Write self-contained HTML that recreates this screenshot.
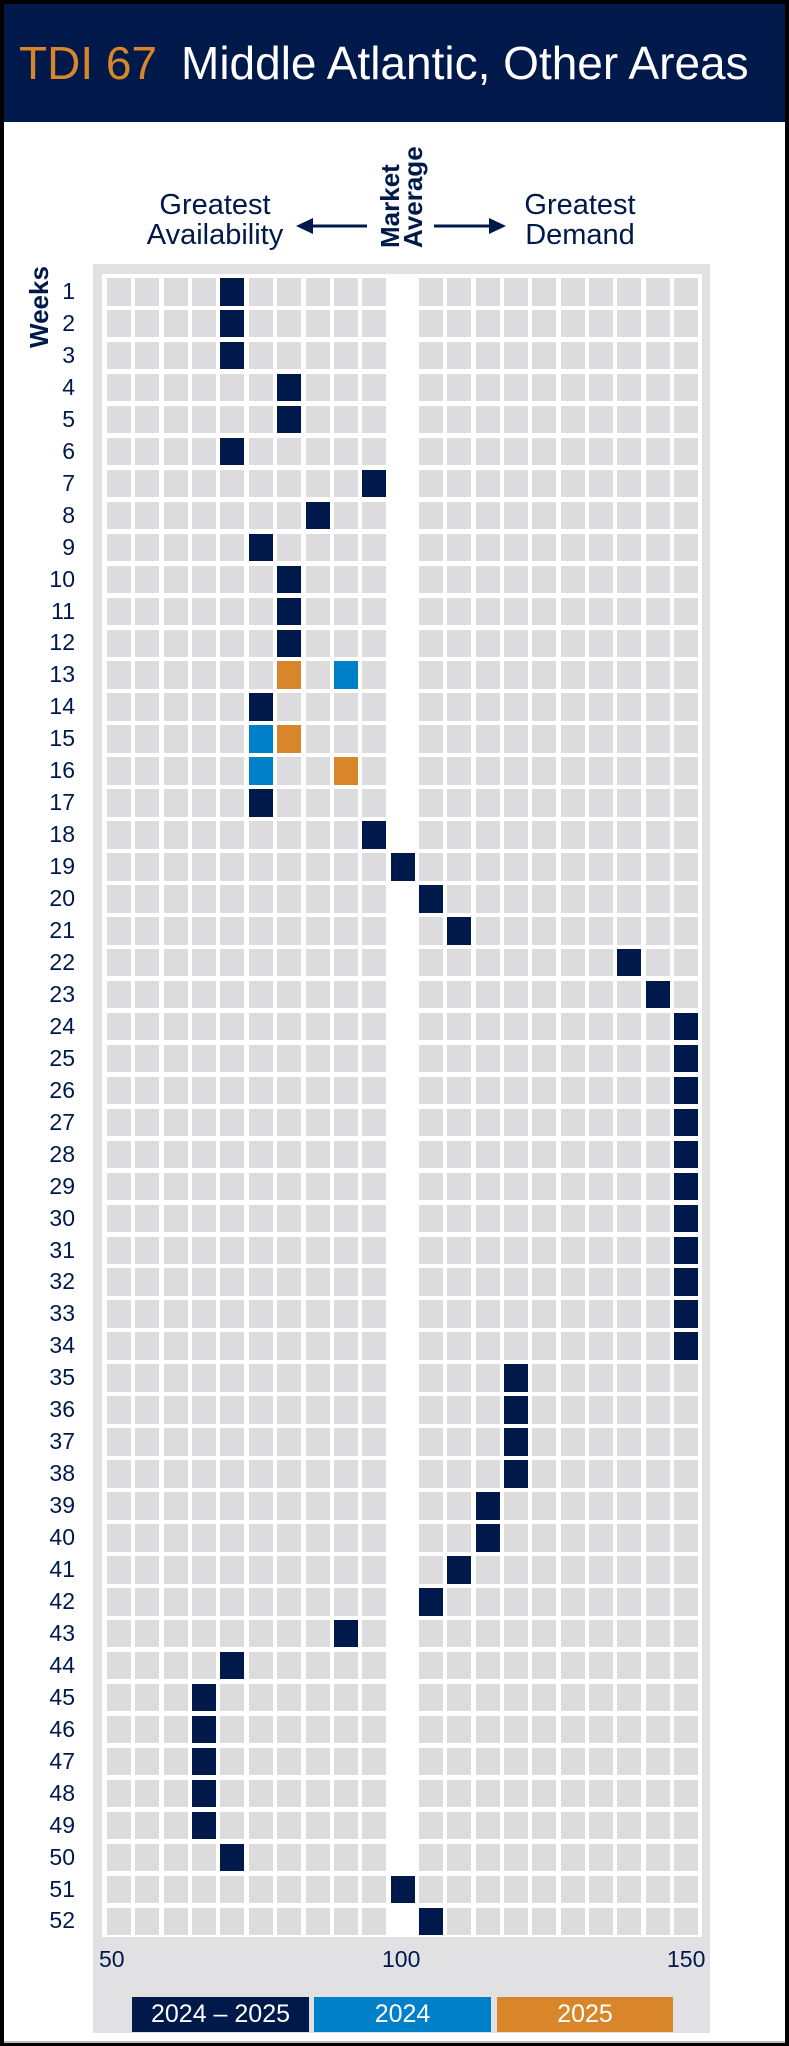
<!DOCTYPE html>
<html><head><meta charset="utf-8"><style>
html,body{margin:0;padding:0}
body{width:789px;height:2046px;background:#000;position:relative;overflow:hidden;font-family:"Liberation Sans",sans-serif}
#page{position:absolute;left:4px;top:4px;width:781px;height:2037px;background:#fff}
#hdr{position:absolute;left:4px;top:4px;width:781px;height:118px;background:#00194b}
.t{position:absolute;white-space:nowrap;transform-origin:0 0}
.lab{color:#00194b}
#grey{position:absolute;left:93px;top:264px;width:617px;height:1769px;background:#e1e1e3}
#white{position:absolute;left:102px;top:274px;width:600px;height:1663px;background:#fff}
.c{position:absolute;width:24px;height:27.5px;background:#dcdcde}
.wk{position:absolute;width:50px;text-align:right;left:25px;font-size:23px;color:#00194b}
.lg{position:absolute;top:1997px;height:35px;color:#fff;font-size:25px;line-height:35px;text-align:center}
#bot{position:absolute;left:4px;top:2041px;width:781px;height:2px;background:#bbb}
</style></head><body>
<div id="page"></div>
<div id="hdr"></div>
<div class="t" style="left:19px;top:36px;font-size:46px;color:#d9862a">TDI 67</div>
<div class="t" style="left:181px;top:36px;font-size:46px;color:#fff">Middle Atlantic, Other Areas</div>
<div class="t lab" style="left:140px;top:190px;font-size:29px;line-height:30px;text-align:center;width:150px">Greatest<br>Availability</div>
<div class="t lab" style="left:505px;top:190px;font-size:29px;line-height:30px;text-align:center;width:150px">Greatest<br>Demand</div>
<svg style="position:absolute;left:0;top:0" width="789" height="400">
<line x1="310" y1="226" x2="367" y2="226" stroke="#00194b" stroke-width="3"/>
<polygon points="296,226 313,218 313,234" fill="#00194b"/>
<line x1="434" y1="226" x2="492" y2="226" stroke="#00194b" stroke-width="3"/>
<polygon points="506,226 489,218 489,234" fill="#00194b"/>
<text transform="translate(399,248) rotate(-90)" font-family="Liberation Sans" font-weight="bold" font-size="26" fill="#00194b">Market</text>
<text transform="translate(422,248) rotate(-90)" font-family="Liberation Sans" font-weight="bold" font-size="26" fill="#00194b">Average</text>
<text transform="translate(48,348) rotate(-90)" font-family="Liberation Sans" font-weight="bold" font-size="26" fill="#00194b">Weeks</text>
</svg>
<div id="grey"></div>
<div id="white"></div>
<div id="cells"></div>
<div class="t lab" style="left:99px;top:1946px;font-size:23px">50</div>
<div class="t lab" style="left:382px;top:1946px;font-size:23px">100</div>
<div class="t lab" style="left:667px;top:1946px;font-size:23px">150</div>
<div class="lg" style="left:132px;width:177px;background:#00194b">2024 – 2025</div>
<div class="lg" style="left:314px;width:177px;background:#0080c8">2024</div>
<div class="lg" style="left:497px;width:176px;background:#d9862a">2025</div>
<div id="bot"></div>
<script>
var nv=[4,4,4,6,6,4,9,7,5,6,6,6,null,5,null,null,5,9,10,11,12,18,19,20,20,20,20,20,20,20,20,20,20,20,14,14,14,14,13,13,12,11,8,4,3,3,3,3,3,4,10,11];
var extra={13:[[6,'#d9862a'],[8,'#0080c8']],15:[[5,'#0080c8'],[6,'#d9862a']],16:[[5,'#0080c8'],[8,'#d9862a']]};
var h='';
for(var r=0;r<52;r++){
 var y=278+r*31.95;
 h+='<div class="wk" style="top:'+(y+0)+'px">'+(r+1)+'</div>';
 for(var c=0;c<21;c++){
  var x=107+c*28.35, col=(c==10)?'transparent':'#dcdcde';
  if(nv[r]===c) col='#00194b';
  var e=extra[r+1]; if(e){for(var k=0;k<e.length;k++) if(e[k][0]==c) col=e[k][1];}
  if(col!='transparent') h+='<div class="c" style="left:'+x.toFixed(1)+'px;top:'+y.toFixed(1)+'px;background:'+col+'"></div>';
 }
}
document.getElementById('cells').innerHTML=h;
</script>
</body></html>
